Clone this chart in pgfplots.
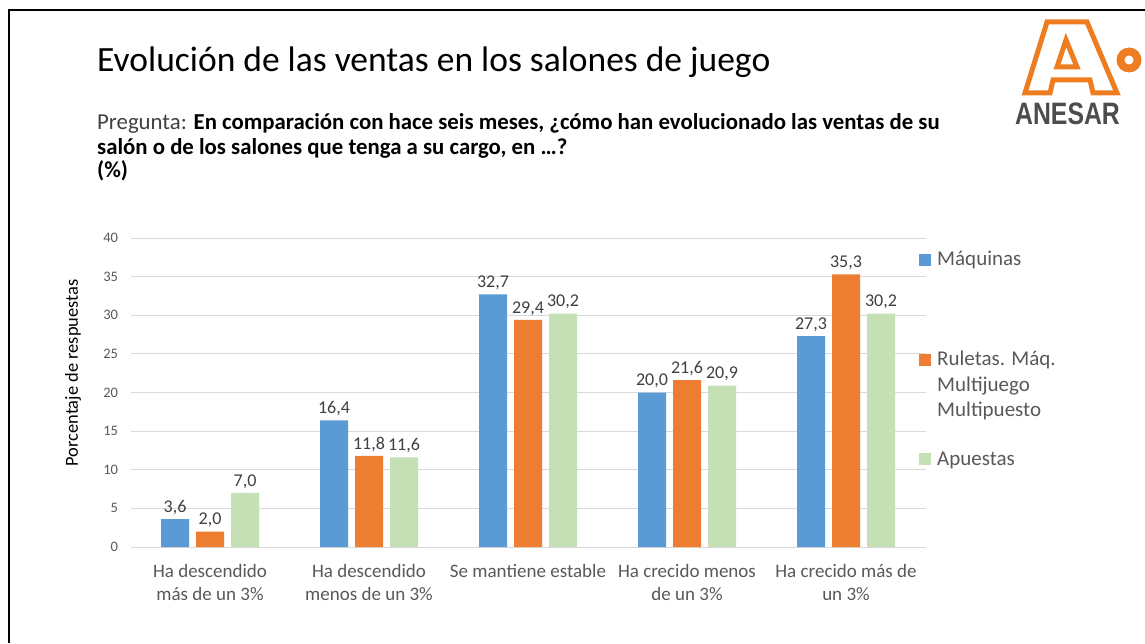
\documentclass[border=0pt]{standalone}
\usepackage{pgfplots}
\pgfplotsset{compat=1.18}
\usepackage{fontspec}
\setmainfont{Carlito}
\newfontfamily\logofont{Liberation Sans}
\definecolor{cblue}{HTML}{5B9BD5}
\definecolor{corange}{HTML}{ED7D31}
\definecolor{cgreen}{HTML}{C5E0B4}
\definecolor{gridc}{HTML}{D9D9D9}
\definecolor{tickc}{HTML}{595959}
\definecolor{lblc}{HTML}{404040}
\definecolor{logoorange}{HTML}{EE7D22}
\definecolor{logogray}{HTML}{4D4D4D}
\begin{document}
\begin{tikzpicture}[x=1pt,y=1pt]
\path[use as bounding box, fill=white] (0,0) rectangle (1145,643);
\draw[line width=2pt] (9,0) -- (9,633) -- (1145,633);
% title
\node[anchor=base west, inner sep=0pt, font=\fontsize{35.5}{40}\selectfont] at (97,571) {Evolución de las ventas en los salones de juego};
\node[anchor=base west, inner sep=0pt, font=\fontsize{22.8}{26}\selectfont] at (97,513) {\textcolor{lblc}{Pregunta:} \textbf{En comparación con hace seis meses, ¿cómo han evolucionado las ventas de su}};
\node[anchor=base west, inner sep=0pt, font=\fontsize{22.8}{26}\selectfont\bfseries] at (97,488) {salón o de los salones que tenga a su cargo, en …?};
\node[anchor=base west, inner sep=0pt, font=\fontsize{22.8}{26}\selectfont\bfseries] at (97,465) {(\%)};
% logo
\draw[logoorange, line width=5pt, line join=miter, fill=white] (1025,550) -- (1047,621) -- (1087,621) -- (1117,550) -- (1093,550) -- (1090,563) -- (1053,563) -- (1050,550) -- cycle;
\draw[logoorange, line width=5pt, line join=miter, fill=white] (1066,603) -- (1057,576) -- (1077,576) -- cycle;
\fill[logoorange] (1129,583) circle (12.5);
\fill[white] (1129,583) circle (4.5);
\node[anchor=base, inner sep=0pt, text=logogray, xscale=0.8, font=\logofont\bfseries\fontsize{31}{31}\selectfont] at (1067.5,518) {ANESAR};
% y label
\node[rotate=90, font=\fontsize{18.4}{22}\selectfont, inner sep=0pt] at (73,270) {Porcentaje de respuestas};
\begin{axis}[
  at={(130.5pt,96pt)}, anchor=south west, scale only axis,
  width=795pt, height=309pt,
  xmin=-0.5, xmax=4.5, ymin=0, ymax=40,
  ytick={0,5,...,40},
  xtick={0,1,2,3,4},
  xticklabels={Ha descendido\\más de un 3\%, Ha descendido\\menos de un 3\%, Se mantiene estable, Ha crecido menos\\de un 3\%, Ha crecido más de\\un 3\%},
  xticklabel style={align=center, text=tickc, font=\fontsize{19}{23}\selectfont, anchor=north, yshift=-14pt},
  yticklabel style={text=tickc, font=\fontsize{14.5}{17}\selectfont, xshift=-9pt},
  /pgf/number format/assume math mode=true,
  ymajorgrids, grid style={gridc, line width=1pt},
  axis line style={draw=none},
  major tick length=0pt,
  ybar=7pt, bar width=28pt,
  nodes near coords={\pgfmathprintnumber[use comma,fixed,fixed zerofill,precision=1]{\pgfplotspointmeta}},
  every node near coord/.append style={font=\fontsize{18}{21}\selectfont, text=lblc, yshift=1pt},
  clip=false,
]
\addplot[fill=cblue, draw=none] coordinates {(0,3.6) (1,16.4) (2,32.7) (3,20.0) (4,27.3)};
\addplot[fill=corange, draw=none] coordinates {(0,2.0) (1,11.8) (2,29.4) (3,21.6) (4,35.3)};
\addplot[fill=cgreen, draw=none] coordinates {(0,7.0) (1,11.6) (2,30.2) (3,20.9) (4,30.2)};
\end{axis}
% legend
\fill[cblue] (919,377.3) rectangle (931,389.3);
\fill[corange] (919,277) rectangle (931,289);
\fill[cgreen] (919,178) rectangle (931,190);
\begin{scope}[every node/.style={anchor=base west, inner sep=0pt, text=tickc, font=\fontsize{21}{25}\selectfont}]
\node at (937,377) {Máquinas};
\node at (937,277) {Ruletas. Máq.};
\node at (937,251.3) {Multijuego};
\node at (937,226.3) {Multipuesto};
\node at (937,178) {Apuestas};
\end{scope}
\end{tikzpicture}
\end{document}
